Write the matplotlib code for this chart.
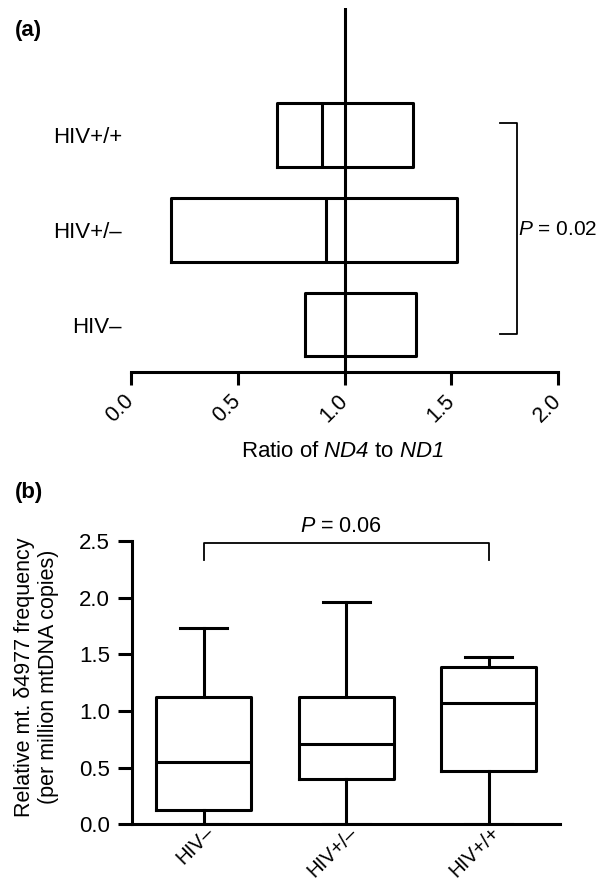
import matplotlib
matplotlib.use('Agg')
import matplotlib.pyplot as plt
from matplotlib.transforms import ScaledTranslation

plt.rcParams['font.family'] = ['Liberation Sans', 'DejaVu Sans']
plt.rcParams['mathtext.fontset'] = 'custom'
plt.rcParams['mathtext.rm'] = 'Liberation Sans:italic'
plt.rcParams['mathtext.it'] = 'Liberation Sans:italic'

# panel (a): ratio of ND4 to ND1, boxes only (q1, median, q3)
groups_a = ['HIV\u2013', 'HIV+/\u2013', 'HIV+/+']
q1_a = [0.814, 0.185, 0.683]
med_a = [1.0, 0.914, 0.894]
q3_a = [1.336, 1.526, 1.318]
ticks_a = [0.0, 0.5, 1.0, 1.5, 2.0]

# panel (b): relative mt. d4977 frequency, box and whiskers
groups_b = ['HIV\u2013', 'HIV+/\u2013', 'HIV+/+']
low_b = [0.0, 0.0, 0.0]
q1_b = [0.13, 0.404, 0.474]
med_b = [0.55, 0.708, 1.075]
q3_b = [1.122, 1.12, 1.385]
high_b = [1.735, 1.962, 1.477]
ticks_b = [0.0, 0.5, 1.0, 1.5, 2.0, 2.5]

LW = 2.2
fig = plt.figure(figsize=(6.06, 8.84), dpi=100)

# ---- (a)
ax1 = fig.add_axes([0.2162, 0.5792, 0.7051, 0.4118])
stats = []
for i in range(len(groups_a)):
    stats.append({'med': med_a[i], 'q1': q1_a[i], 'q3': q3_a[i],
                  'whislo': q1_a[i], 'whishi': q3_a[i]})
ax1.bxp(stats, positions=range(len(groups_a)), widths=0.67,
        orientation='horizontal', showcaps=False, showfliers=False,
        boxprops=dict(color='black', linewidth=LW),
        medianprops=dict(color='black', linewidth=LW),
        whiskerprops=dict(linewidth=0))
ax1.axvline(1.0, ymin=0.0, ymax=1.0, color='black', linewidth=LW, zorder=1)
ax1.set_xlim(0, 2)
ax1.set_ylim(-0.5, 3.34)
ax1.set_xticks(ticks_a)
ax1.set_xticklabels(['%.1f' % t for t in ticks_a])
ax1.set_yticks(range(len(groups_a)))
ax1.set_yticklabels(groups_a, fontsize=16)
for s in ['top', 'right', 'left']:
    ax1.spines[s].set_visible(False)
ax1.spines['bottom'].set_linewidth(LW)
ax1.tick_params(axis='y', length=0, pad=6.5)
ax1.tick_params(axis='x', length=9.5, width=LW, labelsize=15.5, pad=9)
plt.setp(ax1.get_xticklabels(), rotation=45, ha='right', va='center',
         rotation_mode='anchor')
ax1.set_xlabel('Ratio of $ND4$ to $ND1$', fontsize=16)
ax1.xaxis.set_label_coords(0.496, -0.19)

# bracket HIV- vs HIV+/+
bx = 1.807
ax1.plot([bx - 0.08, bx, bx, bx - 0.08], [2.13, 2.13, -0.10, -0.10],
         color='black', linewidth=1.3, clip_on=False)
ax1.text(bx + 0.005, 1.0, '$P$ = 0.02', fontsize=15, ha='left',
         va='center', clip_on=False)

fig.text(0.024, 0.966, '(a)', fontsize=16, fontweight='bold',
         ha='left', va='center')

# ---- (b)
ax2 = fig.add_axes([0.2183, 0.0675, 0.7058, 0.3205])
stats = []
for i in range(len(groups_b)):
    stats.append({'med': med_b[i], 'q1': q1_b[i], 'q3': q3_b[i],
                  'whislo': low_b[i], 'whishi': high_b[i]})
ax2.bxp(stats, positions=range(len(groups_b)), widths=0.668,
        capwidths=0.33, showfliers=False,
        boxprops=dict(color='black', linewidth=LW),
        medianprops=dict(color='black', linewidth=LW),
        whiskerprops=dict(color='black', linewidth=LW),
        capprops=dict(color='black', linewidth=LW))
ax2.set_xlim(-0.5, 2.5)
ax2.set_ylim(0, 2.5)
ax2.set_yticks(ticks_b)
ax2.set_yticklabels(['%.1f' % t for t in ticks_b])
ax2.set_xticks(range(len(groups_b)))
ax2.set_xticklabels(groups_b)
for s in ['top', 'right']:
    ax2.spines[s].set_visible(False)
ax2.spines['bottom'].set_linewidth(LW)
ax2.spines['left'].set_linewidth(LW)
ax2.tick_params(axis='y', length=10, width=LW, labelsize=16, pad=6)
ax2.tick_params(axis='x', length=0, labelsize=14.5, pad=4)
shift = ScaledTranslation(0.08, 0, fig.dpi_scale_trans)
for lab in ax2.get_xticklabels():
    lab.set_rotation(45)
    lab.set_ha('right')
    lab.set_va('center')
    lab.set_rotation_mode('anchor')
    lab.set_transform(lab.get_transform() + shift)
ax2.set_ylabel('Relative mt. \u03b44977 frequency\n(per million mtDNA copies)',
               fontsize=15.5, linespacing=1.2)
ax2.yaxis.set_label_coords(-0.172, 0.52)

ax2.plot([0, 0, 2, 2], [2.333, 2.483, 2.483, 2.333], color='black',
         linewidth=1.3, clip_on=False)
ax2.text(0.96, 2.63, '$P$ = 0.06', fontsize=15.5, ha='center', va='center',
         clip_on=False)

fig.text(0.024, 0.4425, '(b)', fontsize=16, fontweight='bold',
         ha='left', va='center')

fig.savefig('out.png', dpi=100)
